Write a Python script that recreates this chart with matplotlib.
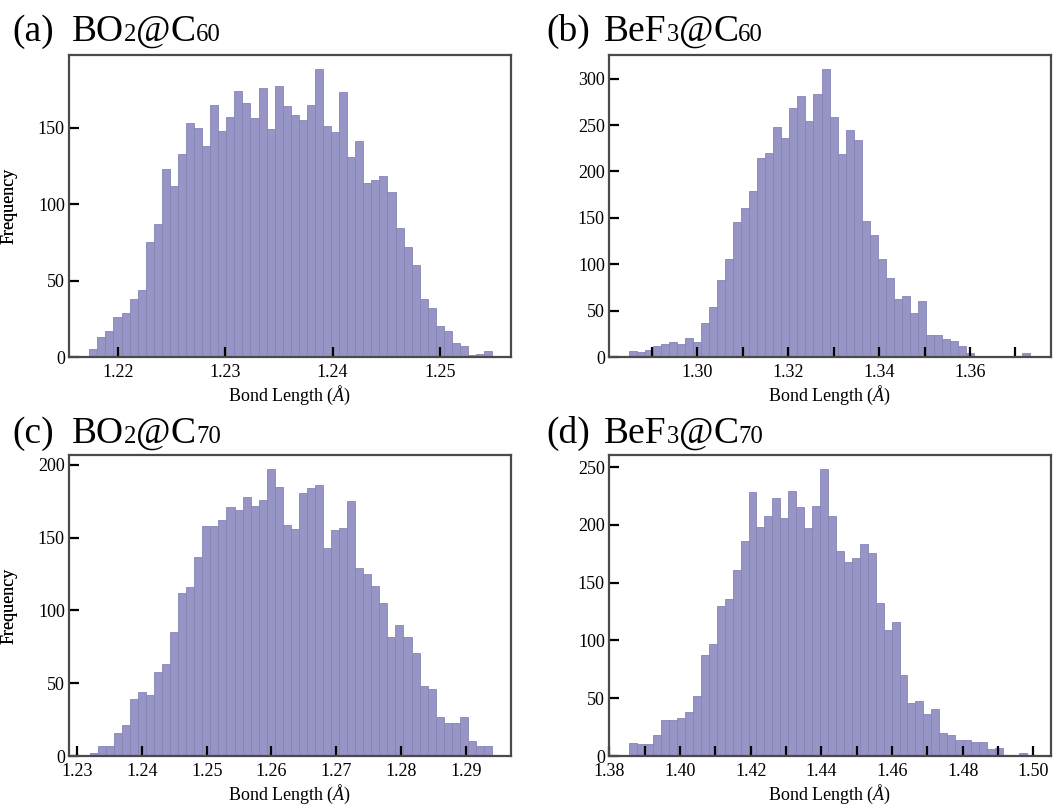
import numpy as np
import matplotlib
matplotlib.use("Agg")
import matplotlib.pyplot as plt
from matplotlib.ticker import MultipleLocator

plt.rcParams['font.family'] = ['Liberation Serif', 'DejaVu Serif']
plt.rcParams['mathtext.fontset'] = 'custom'
plt.rcParams['mathtext.rm'] = 'Liberation Serif'
plt.rcParams['mathtext.it'] = 'Liberation Serif:italic'

W, H = 1054, 805

# bin ranges (first left edge, last right edge), 50 bins each
bins_a = (1.21736, 1.25486)
bins_b = (1.28489, 1.37330)
bins_c = (1.23196, 1.29401)
bins_d = (1.38566, 1.49811)

counts_a = [5, 13, 17, 26, 29, 38, 44, 75, 87, 123, 112, 133, 153, 150, 138,
            165, 148, 157, 174, 166, 156, 176, 149, 177, 164, 158, 155, 165, 188, 151,
            147, 173, 131, 141, 114, 116, 118, 108, 84, 72, 60, 38, 32, 20, 17,
            9, 7, 1, 2, 4]
counts_b = [6, 5, 8, 12, 14, 16, 14, 21, 16, 37, 54, 83, 106, 146, 161,
            179, 215, 220, 248, 236, 268, 281, 254, 284, 310, 259, 219, 245, 234, 147,
            131, 106, 85, 63, 66, 47, 60, 24, 24, 19, 17, 12, 4, 0, 1,
            1, 1, 1, 1, 4]
counts_c = [2, 7, 7, 16, 21, 39, 44, 42, 58, 63, 85, 112, 116, 137, 158,
            158, 162, 171, 169, 178, 172, 176, 197, 185, 159, 156, 181, 184, 186, 143,
            155, 157, 175, 129, 125, 117, 105, 82, 90, 82, 71, 48, 46, 27, 23,
            23, 27, 10, 7, 7]
counts_d = [11, 10, 10, 18, 31, 31, 33, 38, 52, 87, 97, 130, 136, 161, 186,
            228, 198, 208, 223, 206, 229, 215, 197, 216, 248, 208, 177, 168, 171, 183,
            176, 132, 109, 116, 70, 46, 48, 36, 41, 20, 18, 14, 14, 12, 12,
            6, 7, 1, 1, 3]

panels = [
    # tag, formula pieces, counts, bins, xlim, major step, minor step
    ('(a)', [('BO', 0), ('2', 1), ('@', 0), ('C', 0), ('60', 1)], counts_a, bins_a,
     (1.21547, 1.25661), 0.01, None),
    ('(b)', [('BeF', 0), ('3', 1), ('@', 0), ('C', 0), ('60', 1)], counts_b, bins_b,
     (1.28056, 1.37783), 0.02, 0.01),
    ('(c)', [('BO', 0), ('2', 1), ('@', 0), ('C', 0), ('70', 1)], counts_c, bins_c,
     (1.22876, 1.29695), 0.01, None),
    ('(d)', [('BeF', 0), ('3', 1), ('@', 0), ('C', 0), ('70', 1)], counts_d, bins_d,
     (1.37990, 1.50500), 0.02, 0.01),
]

# axes boxes in pixels: left, top, right, bottom
boxes = [(69, 55, 511, 357), (609, 55, 1051, 357),
         (69, 455, 511, 756), (609, 455, 1051, 756)]
# title positions: tag x, formula x, baseline y (pixels from top)
title_pos = [(12, 72, 41), (546, 604, 41), (12, 72, 443), (546, 604, 443)]

bar_color = '#9795c5'
edge_color = '#8684b6'
title_size = 27
small = 0.66
label_size = 13

fig = plt.figure(figsize=(W / 100, H / 100), dpi=100)
renderer = fig.canvas.get_renderer()

for (tag, parts, counts, brange, xlim, major, minor), box, tpos in zip(panels, boxes, title_pos):
    l, t, r, b = box
    ax = fig.add_axes([l / W, (H - b) / H, (r - l) / W, (b - t) / H])
    edges = np.linspace(brange[0], brange[1], len(counts) + 1)
    ax.bar(edges[:-1], counts, width=np.diff(edges), align='edge',
           color=bar_color, edgecolor=edge_color, linewidth=0.6)
    ax.set_xlim(*xlim)
    ax.set_ylim(0, max(counts) * 1.05)
    ax.xaxis.set_major_locator(MultipleLocator(major))
    if minor:
        ax.xaxis.set_minor_locator(MultipleLocator(minor))
    ax.yaxis.set_major_locator(MultipleLocator(50))
    ax.xaxis.set_major_formatter(plt.FormatStrFormatter('%.2f'))
    ax.tick_params(which='both', direction='in', top=False, right=False,
                   length=7, width=1.6, color='black', labelsize=label_size, pad=5)
    ax.tick_params(axis='y', which='major', pad=3)
    for s in ax.spines.values():
        s.set_color('#4a4a4a')
        s.set_linewidth(1.6)
    ax.set_xlabel(r'Bond Length ($\mathit{Å}$)', fontsize=label_size, labelpad=2)
    ax.set_ylabel('Frequency', fontsize=label_size)
    ax.yaxis.set_label_coords((18 - l) / (r - l), 0.5)

    # panel title: tag, then formula with reduced-size digits on the baseline
    xt, xf, yb = tpos
    fig.text(xt / W, (H - yb) / H, tag, fontsize=title_size, va='baseline')
    x = xf
    for s, is_small in parts:
        txt = fig.text(x / W, (H - yb) / H, s, va='baseline',
                       fontsize=title_size * (small if is_small else 1))
        x = txt.get_window_extent(renderer).x1

fig.savefig('out.png', dpi=100)
